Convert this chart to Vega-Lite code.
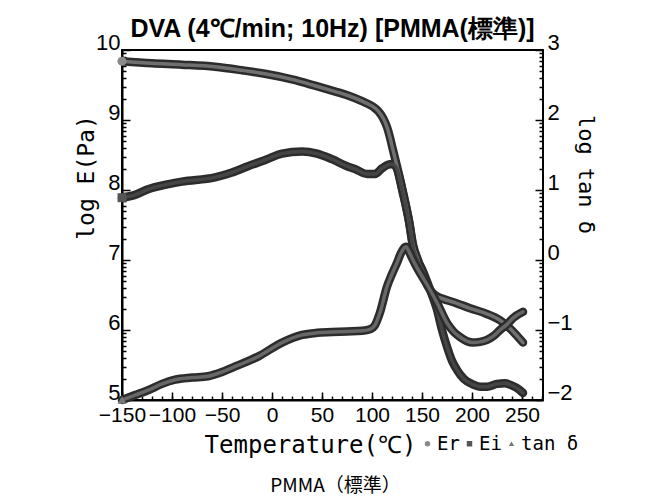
{
  "$schema": "https://vega.github.io/schema/vega-lite/v6.json",
  "width": 421,
  "height": 350,
  "autosize": {"type": "none"},
  "padding": {"left": 122, "top": 50, "right": 120, "bottom": 102},
  "background": "white",
  "title": {"text": "PMMA（標準）", "orient": "bottom", "frame": "group", "anchor": "middle", "offset": 20, "fontSize": 19, "fontWeight": "normal", "font": "Noto Sans CJK JP", "color": "black", "dx": 3},
  "config": {
    "view": {"stroke": "#000", "strokeWidth": 2},
    "axis": {"grid": false, "domainColor": "#000", "domainWidth": 2, "tickColor": "#000", "tickWidth": 1.5, "labelColor": "#000", "titleColor": "#000"}
  },
  "datasets": {
    "d": [
      {"T": -150, "s": "Er", "v": 9.84}, {"T": -120, "s": "Er", "v": 9.81}, {"T": -90, "s": "Er", "v": 9.79}, {"T": -57, "s": "Er", "v": 9.76}, {"T": -30, "s": "Er", "v": 9.71}, {"T": -7, "s": "Er", "v": 9.66}, {"T": 20, "s": "Er", "v": 9.58}, {"T": 43, "s": "Er", "v": 9.49}, {"T": 60, "s": "Er", "v": 9.42}, {"T": 76, "s": "Er", "v": 9.35}, {"T": 90, "s": "Er", "v": 9.27}, {"T": 101, "s": "Er", "v": 9.19}, {"T": 106, "s": "Er", "v": 9.13}, {"T": 111, "s": "Er", "v": 9.03}, {"T": 115, "s": "Er", "v": 8.9}, {"T": 118, "s": "Er", "v": 8.75}, {"T": 121, "s": "Er", "v": 8.57}, {"T": 125, "s": "Er", "v": 8.34}, {"T": 131, "s": "Er", "v": 7.97}, {"T": 137, "s": "Er", "v": 7.56}, {"T": 141, "s": "Er", "v": 7.22}, {"T": 146, "s": "Er", "v": 7.0}, {"T": 151, "s": "Er", "v": 6.8}, {"T": 156, "s": "Er", "v": 6.62}, {"T": 160, "s": "Er", "v": 6.54}, {"T": 165, "s": "Er", "v": 6.48}, {"T": 170, "s": "Er", "v": 6.45}, {"T": 183, "s": "Er", "v": 6.39}, {"T": 198, "s": "Er", "v": 6.31}, {"T": 213, "s": "Er", "v": 6.24}, {"T": 228, "s": "Er", "v": 6.14}, {"T": 241, "s": "Er", "v": 5.98}, {"T": 251, "s": "Er", "v": 5.82},
      {"T": -150, "s": "Ei", "v": 7.89}, {"T": -137, "s": "Ei", "v": 7.93}, {"T": -124, "s": "Ei", "v": 8.01}, {"T": -105, "s": "Ei", "v": 8.08}, {"T": -90, "s": "Ei", "v": 8.12}, {"T": -57, "s": "Ei", "v": 8.18}, {"T": -40, "s": "Ei", "v": 8.25}, {"T": -24, "s": "Ei", "v": 8.34}, {"T": -5, "s": "Ei", "v": 8.44}, {"T": 10, "s": "Ei", "v": 8.52}, {"T": 30, "s": "Ei", "v": 8.55}, {"T": 45, "s": "Ei", "v": 8.52}, {"T": 60, "s": "Ei", "v": 8.44}, {"T": 75, "s": "Ei", "v": 8.34}, {"T": 83, "s": "Ei", "v": 8.3}, {"T": 95, "s": "Ei", "v": 8.23}, {"T": 103, "s": "Ei", "v": 8.23}, {"T": 110, "s": "Ei", "v": 8.31}, {"T": 116, "s": "Ei", "v": 8.36}, {"T": 120, "s": "Ei", "v": 8.37}, {"T": 124, "s": "Ei", "v": 8.33}, {"T": 131, "s": "Ei", "v": 7.95}, {"T": 137, "s": "Ei", "v": 7.55}, {"T": 141, "s": "Ei", "v": 7.19}, {"T": 151, "s": "Ei", "v": 6.84}, {"T": 158, "s": "Ei", "v": 6.58}, {"T": 165, "s": "Ei", "v": 6.29}, {"T": 170, "s": "Ei", "v": 6.0}, {"T": 175, "s": "Ei", "v": 5.76}, {"T": 180, "s": "Ei", "v": 5.56}, {"T": 185, "s": "Ei", "v": 5.43}, {"T": 192, "s": "Ei", "v": 5.3}, {"T": 201, "s": "Ei", "v": 5.22}, {"T": 208, "s": "Ei", "v": 5.19}, {"T": 215, "s": "Ei", "v": 5.19}, {"T": 225, "s": "Ei", "v": 5.23}, {"T": 233, "s": "Ei", "v": 5.24}, {"T": 241, "s": "Ei", "v": 5.2}, {"T": 246, "s": "Ei", "v": 5.16}, {"T": 251, "s": "Ei", "v": 5.1},
      {"T": -150, "s": "tan δ", "v": -2.0}, {"T": -137, "s": "tan δ", "v": -1.93}, {"T": -124, "s": "tan δ", "v": -1.86}, {"T": -110, "s": "tan δ", "v": -1.77}, {"T": -97, "s": "tan δ", "v": -1.71}, {"T": -80, "s": "tan δ", "v": -1.68}, {"T": -64, "s": "tan δ", "v": -1.66}, {"T": -50, "s": "tan δ", "v": -1.6}, {"T": -40, "s": "tan δ", "v": -1.54}, {"T": -14, "s": "tan δ", "v": -1.38}, {"T": 10, "s": "tan δ", "v": -1.18}, {"T": 30, "s": "tan δ", "v": -1.07}, {"T": 45, "s": "tan δ", "v": -1.04}, {"T": 60, "s": "tan δ", "v": -1.03}, {"T": 75, "s": "tan δ", "v": -1.02}, {"T": 90, "s": "tan δ", "v": -1.01}, {"T": 98, "s": "tan δ", "v": -0.99}, {"T": 103, "s": "tan δ", "v": -0.93}, {"T": 108, "s": "tan δ", "v": -0.75}, {"T": 115, "s": "tan δ", "v": -0.38}, {"T": 120, "s": "tan δ", "v": -0.2}, {"T": 125, "s": "tan δ", "v": -0.04}, {"T": 129, "s": "tan δ", "v": 0.1}, {"T": 134, "s": "tan δ", "v": 0.19}, {"T": 137, "s": "tan δ", "v": 0.12}, {"T": 140, "s": "tan δ", "v": 0.03}, {"T": 145, "s": "tan δ", "v": -0.11}, {"T": 155, "s": "tan δ", "v": -0.35}, {"T": 165, "s": "tan δ", "v": -0.61}, {"T": 175, "s": "tan δ", "v": -0.9}, {"T": 182, "s": "tan δ", "v": -1.03}, {"T": 188, "s": "tan δ", "v": -1.1}, {"T": 195, "s": "tan δ", "v": -1.16}, {"T": 201, "s": "tan δ", "v": -1.18}, {"T": 208, "s": "tan δ", "v": -1.17}, {"T": 215, "s": "tan δ", "v": -1.14}, {"T": 222, "s": "tan δ", "v": -1.08}, {"T": 228, "s": "tan δ", "v": -1.0}, {"T": 235, "s": "tan δ", "v": -0.92}, {"T": 241, "s": "tan δ", "v": -0.83}, {"T": 251, "s": "tan δ", "v": -0.74}
    ]
  },
  "data": {"name": "d"},
  "layer": [
    {
      "transform": [{"filter": "datum.s !== 'tan δ'"}],
      "mark": {"type": "line", "color": "#2c2c2c", "strokeWidth": 8.5, "interpolate": "monotone", "strokeCap": "round", "strokeJoin": "round"},
      "encoding": {
        "x": {"field": "T", "type": "quantitative", "scale": {"domain": [-150, 271], "nice": false, "zero": false},
          "axis": {"orient": "bottom", "values": [-150, -100, -50, 0, 50, 100, 150, 200, 250], "ticks": false, "labelFont": "Liberation Sans Narrow, Liberation Sans", "labelFontSize": 21, "labelPadding": 4, "labelOverlap": false, "labelFlush": false,
            "title": "Temperature(℃)", "titleFont": "DejaVu Sans Mono", "titleFontSize": 24, "titleFontWeight": "normal", "titleX": 188, "titleY": 45, "titleBaseline": "middle", "titleAlign": "center"}},
        "y": {"field": "v", "type": "quantitative", "scale": {"domain": [5, 10], "nice": false, "zero": false},
          "axis": {"orient": "left", "values": [5, 6, 7, 8, 9, 10], "ticks": false, "labelFont": "Liberation Sans Narrow, Liberation Sans", "labelFontSize": 22, "labelPadding": 2, "labelBaseline": "middle", "labelOffset": -8, "labelOverlap": false, "labelFlush": false,
            "title": "log E(Pa)", "titleFont": "DejaVu Sans Mono", "titleFontSize": 23, "titleFontWeight": "normal", "titleX": -36, "titleY": 127, "titleBaseline": "middle", "titleAlign": "center", "titleAngle": -90}},
        "detail": {"field": "s"}
      }
    },
    {
      "transform": [{"filter": "datum.s !== 'tan δ'"}],
      "mark": {"type": "line", "strokeWidth": 3.5, "interpolate": "monotone", "strokeCap": "round", "strokeJoin": "round"},
      "encoding": {
        "x": {"field": "T", "type": "quantitative", "scale": {"domain": [-150, 271], "nice": false, "zero": false},
          "axis": {"orient": "bottom", "values": [-150, -100, -50, 0, 50, 100, 150, 200, 250], "labels": false, "domain": false, "tickSize": -8, "title": null}},
        "y": {"field": "v", "type": "quantitative", "scale": {"domain": [5, 10], "nice": false, "zero": false},
          "axis": {"orient": "left", "values": [5, 6, 7, 8, 9, 10], "labels": false, "domain": false, "tickSize": -8, "title": null}},
        "detail": {"field": "s"},
        "stroke": {"condition": {"test": "datum.s === 'Er'", "value": "#707070"}, "value": "#454545"}
      }
    },
    {
      "transform": [{"filter": "datum.s !== 'tan δ' && datum.T === -150"}],
      "mark": {"type": "point", "filled": true, "size": 80, "opacity": 1},
      "encoding": {
        "x": {"field": "T", "type": "quantitative", "scale": {"domain": [-150, 271], "nice": false, "zero": false},
          "axis": {"orient": "bottom", "values": [-150, -140, -130, -120, -110, -100, -90, -80, -70, -60, -50, -40, -30, -20, -10, 0, 10, 20, 30, 40, 50, 60, 70, 80, 90, 100, 110, 120, 130, 140, 150, 160, 170, 180, 190, 200, 210, 220, 230, 240, 250, 260, 270], "labels": false, "domain": false, "tickSize": -4, "title": null}},
        "y": {"field": "v", "type": "quantitative", "scale": {"domain": [5, 10], "nice": false, "zero": false},
          "axis": {"orient": "left", "values": [5.301, 5.477, 5.602, 5.699, 5.778, 5.845, 5.903, 5.954, 6.301, 6.477, 6.602, 6.699, 6.778, 6.845, 6.903, 6.954, 7.301, 7.477, 7.602, 7.699, 7.778, 7.845, 7.903, 7.954, 8.301, 8.477, 8.602, 8.699, 8.778, 8.845, 8.903, 8.954, 9.301, 9.477, 9.602, 9.699, 9.778, 9.845, 9.903, 9.954], "labels": false, "domain": false, "tickSize": -4, "title": null}},
        "color": {"field": "s", "type": "nominal", "scale": {"domain": ["Er", "Ei", "tan δ"], "range": ["#8a8a8a", "#555555", "#777777"]},
          "legend": {"orient": "none", "legendX": 296, "legendY": 384, "direction": "horizontal", "title": null, "labelFont": "DejaVu Sans Mono", "labelFontSize": 19, "labelColor": "#000", "symbolSize": 30, "columnPadding": 0, "symbolOffset": 0, "labelOffset": 0, "padding": 0}},
        "shape": {"field": "s", "type": "nominal", "scale": {"domain": ["Er", "Ei", "tan δ"], "range": ["circle", "square", "triangle-up"]},
          "legend": {"orient": "none", "legendX": 296, "legendY": 384, "direction": "horizontal", "title": null, "labelFont": "DejaVu Sans Mono", "labelFontSize": 19, "labelColor": "#000", "symbolSize": 30, "columnPadding": 0, "symbolOffset": 0, "labelOffset": 0, "padding": 0}}
      }
    },
    {
      "transform": [{"filter": "datum.s === 'tan δ'"}],
      "mark": {"type": "line", "color": "#2c2c2c", "strokeWidth": 8.5, "interpolate": "monotone", "strokeCap": "round", "strokeJoin": "round"},
      "encoding": {
        "x": {"field": "T", "type": "quantitative", "scale": {"domain": [-150, 271], "nice": false, "zero": false},
          "axis": {"orient": "top", "labels": false, "ticks": false, "domain": false,
            "title": "DVA (4℃/min; 10Hz) [PMMA(標準)]", "titleFont": "Liberation Sans", "titleFontSize": 25, "titleFontWeight": "bold", "titleX": 210, "titleY": -22, "titleBaseline": "middle", "titleAlign": "center"}},
        "y": {"field": "v", "type": "quantitative", "scale": {"domain": [-2, 3], "nice": false, "zero": false},
          "axis": {"orient": "right", "values": [-2, -1, 0, 1, 2, 3], "ticks": false, "domain": false, "labelFont": "Liberation Sans Narrow, Liberation Sans", "labelFontSize": 22, "labelPadding": 4, "labelBaseline": "middle", "labelOffset": -8, "labelOverlap": false, "labelFlush": false,
            "title": "log tan δ", "titleFont": "DejaVu Sans Mono", "titleFontSize": 22, "titleFontWeight": "normal", "titleX": 42, "titleY": 124, "titleBaseline": "middle", "titleAlign": "center", "titleAngle": 90}}
      }
    },
    {
      "transform": [{"filter": "datum.s === 'tan δ'"}],
      "mark": {"type": "line", "strokeWidth": 3.5, "color": "#676767", "interpolate": "monotone", "strokeCap": "round", "strokeJoin": "round"},
      "encoding": {
        "x": {"field": "T", "type": "quantitative", "scale": {"domain": [-150, 271], "nice": false, "zero": false}, "axis": null},
        "y": {"field": "v", "type": "quantitative", "scale": {"domain": [-2, 3], "nice": false, "zero": false},
          "axis": {"orient": "right", "values": [-2, -1, 0, 1, 2, 3], "labels": false, "domain": false, "tickSize": -8, "title": null}}
      }
    },
    {
      "transform": [{"filter": "datum.s === 'tan δ' && datum.T === -150"}],
      "mark": {"type": "point", "filled": true, "size": 80, "opacity": 1, "color": "#777777", "shape": "triangle-up"},
      "encoding": {
        "x": {"field": "T", "type": "quantitative", "scale": {"domain": [-150, 271], "nice": false, "zero": false}, "axis": null},
        "y": {"field": "v", "type": "quantitative", "scale": {"domain": [-2, 3], "nice": false, "zero": false},
          "axis": {"orient": "right", "values": [-1.699, -1.523, -1.398, -1.301, -1.222, -1.155, -1.097, -1.046, -0.699, -0.523, -0.398, -0.301, -0.222, -0.155, -0.097, -0.046, 0.301, 0.477, 0.602, 0.699, 0.778, 0.845, 0.903, 0.954, 1.301, 1.477, 1.602, 1.699, 1.778, 1.845, 1.903, 1.954, 2.301, 2.477, 2.602, 2.699, 2.778, 2.845, 2.903, 2.954], "labels": false, "domain": false, "tickSize": -4, "title": null}}
      }
    }
  ],
  "resolve": {"scale": {"y": "independent"}, "axis": {"x": "independent", "y": "independent"}}
}
